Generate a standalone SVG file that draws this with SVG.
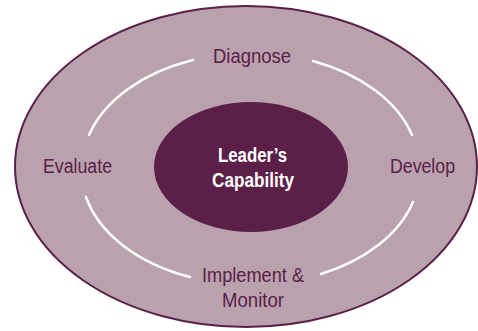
<svg xmlns="http://www.w3.org/2000/svg" width="478" height="331" viewBox="0 0 478 331">
<style>
.lbl{font-family:"Liberation Sans",Arial,sans-serif;font-size:20px;fill:#5a2048;text-anchor:middle}
.core{font-family:"Liberation Sans",Arial,sans-serif;font-size:20px;font-weight:bold;fill:#ffffff;text-anchor:middle}
.arc{fill:none;stroke:#ffffff;stroke-width:2.5;stroke-linecap:round}
</style>
<rect width="478" height="331" fill="#ffffff"/>
<g id="outer">
<ellipse cx="246" cy="166.5" rx="231" ry="160.5" fill="#b9a2ad" stroke="#5a2048" stroke-width="2"/>
</g>
<g id="connectors">
<path class="arc" d="M89,135 A169,114 0 0 1 193,60"/>
<path class="arc" d="M313,61 A169,114 0 0 1 412,135"/>
<path class="arc" d="M413,202 A169,114 0 0 1 321,274"/>
<path class="arc" d="M190,277 A169,114 0 0 1 86,197"/>
</g>
<g id="core">
<ellipse cx="251" cy="167" rx="97" ry="65" fill="#5b1f48"/>
<text class="core" x="252.5" y="162" textLength="69" lengthAdjust="spacingAndGlyphs">Leader’s</text>
<text class="core" x="253" y="187" textLength="82" lengthAdjust="spacingAndGlyphs">Capability</text>
</g>
<g id="diagnose"><text class="lbl" x="252" y="63" textLength="78" lengthAdjust="spacingAndGlyphs">Diagnose</text></g>
<g id="develop"><text class="lbl" x="422.5" y="173" textLength="65" lengthAdjust="spacingAndGlyphs">Develop</text></g>
<g id="implement"><text class="lbl" x="253" y="282" textLength="102" lengthAdjust="spacingAndGlyphs">Implement &amp;</text><text class="lbl" x="253" y="307" textLength="62" lengthAdjust="spacingAndGlyphs">Monitor</text></g>
<g id="evaluate"><text class="lbl" x="77.5" y="173" textLength="69" lengthAdjust="spacingAndGlyphs">Evaluate</text></g>
</svg>
